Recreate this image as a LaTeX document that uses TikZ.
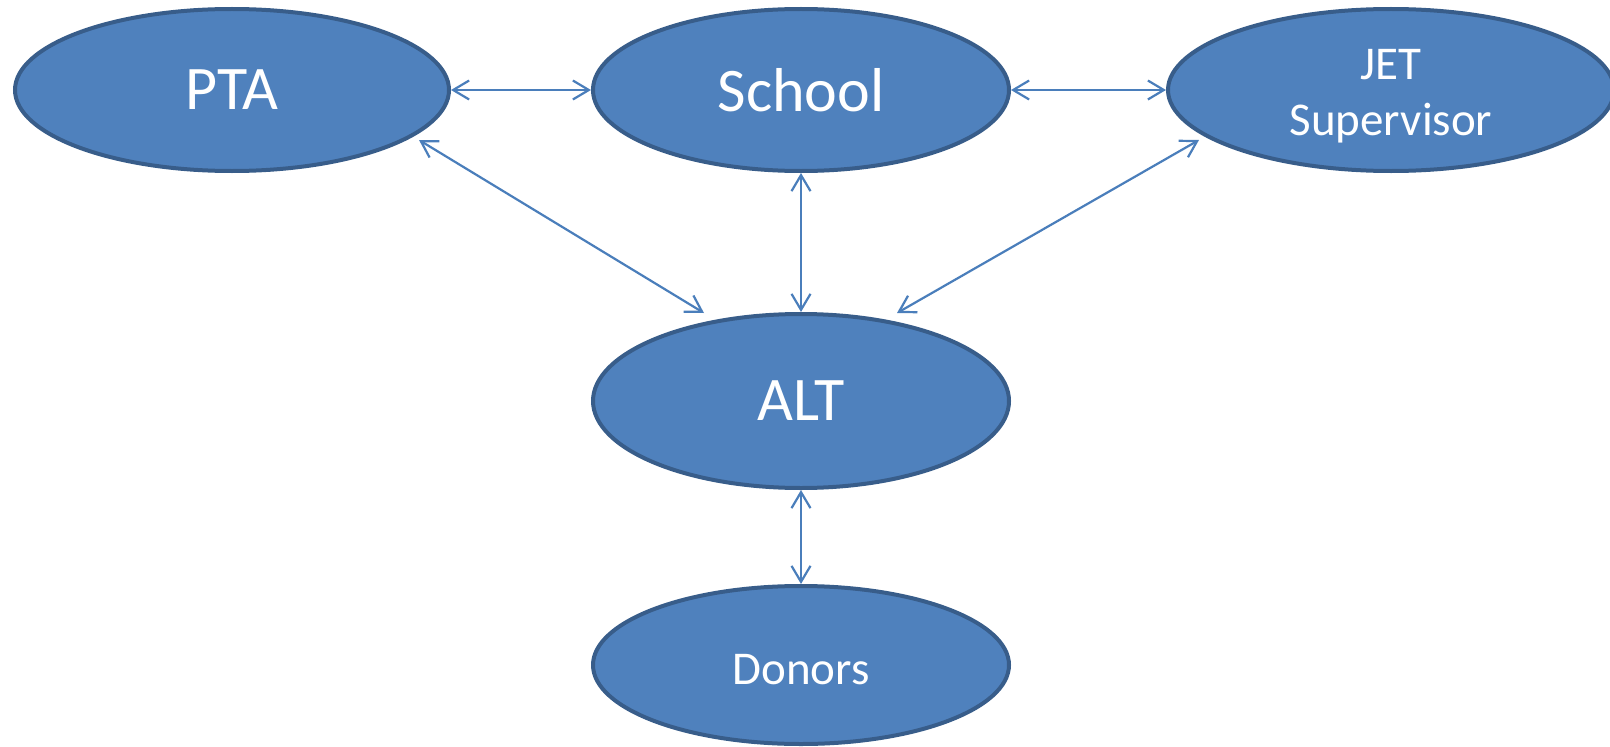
\documentclass[tikz,border=0pt]{standalone}
\usepackage{fontspec}
\setmainfont{Carlito}
\usetikzlibrary{shapes.geometric,arrows.meta,calc}
\definecolor{nodefill}{HTML}{4F81BD}
\definecolor{nodeline}{HTML}{385D8A}
\definecolor{linkcol}{HTML}{4A7EBB}
\begin{document}
\begin{tikzpicture}[x=1bp,y=-1bp,
  oval/.style={ellipse, fill=nodefill, draw=nodeline, line width=4bp, inner sep=0pt, text=white, align=center},
  big/.style={font=\fontsize{62bp}{74bp}\selectfont},
  small/.style={font=\fontsize{47bp}{56bp}\selectfont},
  link/.style={draw=linkcol, line width=2.2bp, {Straight Barb[length=16bp,width=19bp,line width=2.2bp]}-{Straight Barb[length=16bp,width=19bp,line width=2.2bp]}}]
\useasboundingbox (0,0) rectangle (1610,747);
\node[oval, big, minimum width=434bp, minimum height=162bp] (pta) at (232,90) {PTA};
\node[oval, big, minimum width=416bp, minimum height=162bp] (school) at (801,90) {School};
\node[oval, small, minimum width=446bp, minimum height=162bp] (jet) at (1391,90) {\raisebox{-6bp}[\height][\depth]{\begin{tabular}{@{}c@{}}JET\\Supervisor\end{tabular}}};
\node[oval, big, minimum width=416bp, minimum height=174bp] (alt) at (801,401) {ALT};
\node[oval, small, minimum width=416bp, minimum height=158bp] (donors) at (801,665) {\raisebox{-5bp}[\height][\depth]{Donors}};
\draw[link] (pta.east) -- (school.west);
\draw[link] (school.east) -- (jet.west);
\draw[link] ($(pta.center)+(187,50)$) -- ($(alt.center)+(-97,-88)$);
\draw[link] (school.south) -- (alt.north);
\draw[link] ($(jet.center)+(-192,50)$) -- ($(alt.center)+(96,-88)$);
\draw[link] (alt.south) -- (donors.north);
\end{tikzpicture}
\end{document}
